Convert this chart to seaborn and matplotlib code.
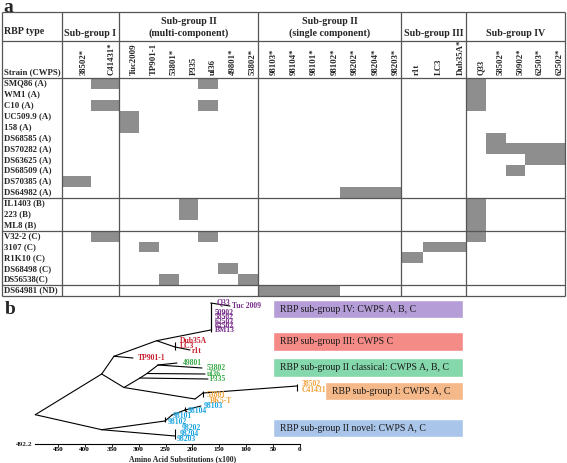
import numpy as np
import pandas as pd
import matplotlib
matplotlib.use("Agg")
import matplotlib.pyplot as plt
from matplotlib.colors import ListedColormap
import seaborn as sns

# ------------------------------------------------------------------
#  Panel a: RBP type found in each strain
# ------------------------------------------------------------------

group_names = ["Sub-group I", "Sub-group II\n(multi-component)",
               "Sub-group II\n(single component)", "Sub-group III",
               "Sub-group IV"]
group_I = ["38502*", "C41431*"]
group_II_multi = ["Tuc2009", "TP901-1", "53801*", "P335", "ul36",
                  "49801*", "53802*"]
group_II_single = ["98103*", "98104*", "98101*", "98102*", "98202*",
                   "98204*", "98203*"]
group_III = ["r1t", "LC3", "Dub35A*"]
group_IV = ["Q33", "58502*", "50902*", "62503*", "62502*"]
group_cols = [group_I, group_II_multi, group_II_single, group_III, group_IV]

strains = ["SMQ86 (A)", "WM1 (A)", "C10 (A)", "UC509.9 (A)", "158 (A)",
           "DS68585 (A)", "DS70282 (A)", "DS63625 (A)", "DS68509 (A)",
           "DS70385 (A)", "DS64982 (A)", "IL1403 (B)", "223 (B)", "ML8 (B)",
           "V32-2 (C)", "3107 (C)", "R1K10 (C)", "DS68498 (C)", "DS56538(C)",
           "DS64981 (ND)"]
strain_hits = [
    ["C41431*", "ul36", "Q33"],
    ["Q33"],
    ["C41431*", "ul36", "Q33"],
    ["Tuc2009"],
    ["Tuc2009"],
    ["58502*"],
    ["58502*", "50902*", "62503*", "62502*"],
    ["62503*", "62502*"],
    ["50902*"],
    ["38502*"],
    ["98202*", "98204*", "98203*"],
    ["P335", "Q33"],
    ["P335", "Q33"],
    ["Q33"],
    ["C41431*", "ul36", "Q33"],
    ["TP901-1", "LC3", "Dub35A*"],
    ["r1t"],
    ["49801*"],
    ["53801*", "53802*"],
    ["98103*", "98104*", "98101*", "98102*"],
]

# ------------------------------------------------------------------
#  Panel b: RBP tree (distances in x100 amino acid substitutions)
# ------------------------------------------------------------------

node_name = ["root", "n1", "n2", "n3", "n4", "IV", "q33", "Tuc", "III",
             "r1t", "TP901-1", "n5", "n6", "n7", "n8", "49801", "53802",
             "ul36", "P335", "n9", "n10", "I", "n11", "n12", "n13",
             "98103", "98104", "J"]
node_parent = [None, "root", "root", "n1", "n3", "n4", "IV", "q33", "n4",
               "III", "n3", "n1", "n5", "n6", "n7", "n8", "n8",
               "n7", "n6", "n5", "n9", "n10", "n2", "n11", "n12",
               "n13", "n13", "n2"]
node_dist = [492.2, 368.7, 368.7, 345.9, 266.5, 166.0, 166.0, 130.2, 232.4,
             204.5, 310.5, 327.3, 297.5, 284.5, 264.0, 228.7, 182.2,
             176.6, 171.1, 195.2, 180.4, 5.6, 251.0, 238.0, 213.8,
             184.1, 210.1, 232.4]
node_pos = [116.7, 76, 131.7, 58.3, 42.7, 32, 5, 8, 49,
            52, 60, 89.5, 80, 75.5, 67, 65, 70,
            76, 81, 101, 95, 88, 123, 117, 112,
            108, 114, 138]

# collapsed clades drawn as short vertical bars
bar_dist = [166.0, 232.4, 5.6, 180.4, 251.0, 213.8, 232.4]
bar_top = [5, 44, 86, 93, 119, 109, 131]
bar_bottom = [34, 52, 93, 99, 124, 113, 141]

tip_label = ["Q33", "Tuc 2009", "50902", "58502", "62503", "62502", "BM13",
             "Dub35A", "LC3", "r1t", "TP901-1",
             "49801", "53802", "ul36", "P335",
             "38502", "C41431", "53801", "BK5-T",
             "98103", "98104", "98101", "98102",
             "98202", "98204", "98203"]
tip_dist = [154.3, 126.4, 158.1, 158.1, 158.1, 158.1, 158.1,
            223.1, 223.1, 200.8, 301.2,
            217.6, 172.9, 172.9, 167.3,
            -3.7, -3.7, 172.9, 167.3,
            178.5, 208.3, 236.1, 245.4,
            219.4, 223.1, 228.7]
tip_pos = [4, 8, 15, 19, 24, 28, 32,
           42.7, 47.7, 52.7, 60,
           65, 70, 75.5, 81,
           86, 92, 97, 103,
           108, 113, 118, 124,
           130, 136, 141]
tip_group = ["IV"] * 7 + ["III"] * 4 + ["II classical"] * 4 + ["I"] * 4 + \
            ["II novel"] * 7

box_text = ["RBP sub-group IV: CWPS A, B, C", "RBP sub-group III: CWPS C",
            "RBP sub-group II classical: CWPS A, B, C",
            "RBP sub-group I: CWPS A, C", "RBP sub-group II novel: CWPS A, C"]
box_group = ["IV", "III", "II classical", "I", "II novel"]

label_colors = {"IV": "#77308A", "III": "#C8202F", "II classical": "#3BAA48",
                "I": "#F2A23C", "II novel": "#19A3DF"}
box_colors = {"IV": "#B59DD8", "III": "#F48B87", "II classical": "#85D7AC",
              "I": "#F5B888", "II novel": "#A9C5EA"}

# ------------------------------------------------------------------
#  Figure
# ------------------------------------------------------------------

sns.set_style("white")
plt.rcParams["font.family"] = ["Liberation Serif", "DejaVu Serif"]

W, H = 567, 463
fig = plt.figure(figsize=(W / 100, H / 100), dpi=100)


def px_axes(x0, y0, x1, y1):
    return fig.add_axes([x0 / W, 1 - y1 / H, (x1 - x0) / W, (y1 - y0) / H])


# table layout (pixels)
block_edges = [62, 119, 258, 401, 466, 565]
t_left, t_right, t_top, t_split, t_head, t_bot = 2, 565, 12, 41, 78, 296
line_c = "#555555"

all_rbps = sum(group_cols, [])
hit = pd.DataFrame(0, index=strains, columns=all_rbps)
for s, hits in zip(strains, strain_hits):
    hit.loc[s, hits] = 1

cmap = ListedColormap(["white", "#8e8e8e"])
for i, cols in enumerate(group_cols):
    ax = px_axes(block_edges[i], t_head, block_edges[i + 1], t_bot)
    sns.heatmap(hit[cols], ax=ax, cmap=cmap, vmin=0, vmax=1, cbar=False,
                xticklabels=cols, yticklabels=(strains if i == 0 else False))
    ax.set_xlabel("")
    ax.set_ylabel("")
    ax.xaxis.tick_top()
    ax.set_xticks(np.arange(len(cols)) + 0.75)
    ax.set_xticklabels(cols)
    ax.tick_params(axis="x", length=0, pad=2)
    plt.setp(ax.get_xticklabels(), rotation=90, fontsize=6.3,
             fontweight="bold", ha="center", va="bottom")
    if i == 0:
        ax.tick_params(axis="y", length=0, pad=(block_edges[0] - 4) * 0.72)
        plt.setp(ax.get_yticklabels(), rotation=0, fontsize=6.3,
                 fontweight="bold", ha="left", va="center")

# frame, separators and header texts
ov = px_axes(0, 0, W, 300)
ov.set_xlim(0, W)
ov.set_ylim(300, 0)
ov.axis("off")
ov.patch.set_alpha(0)

row_h = (t_bot - t_head) / len(strains)
cwps = [s.split("(")[-1].rstrip(")") for s in strains]
seps = [t_head + (k + 1) * row_h for k in range(len(cwps) - 1)
        if cwps[k] != cwps[k + 1]]
ov.hlines([t_top, t_split, t_head] + seps + [t_bot], t_left, t_right,
          colors=line_c, lw=0.9)
ov.vlines([t_left] + block_edges, t_top, t_bot, colors=line_c, lw=0.9)

ov.text(4, 32, "RBP type", fontsize=7.2, fontweight="bold", va="center")
ov.text(4, 72, "Strain (CWPS)", fontsize=6.3, fontweight="bold",
        va="center")
for i, name in enumerate(group_names):
    ov.text((block_edges[i] + block_edges[i + 1]) / 2, 38, name,
            fontsize=7.2, fontweight="bold", ha="center", va="bottom",
            multialignment="center", linespacing=1.35)

fig.text(3 / W, 1 - 12 / H, "a", fontsize=14, fontweight="bold",
         va="baseline", ha="left")
fig.text(5 / W, 1 - 314 / H, "b", fontsize=14, fontweight="bold",
         va="baseline", ha="left")

# ------------------------------------------------------------------
#  Tree
# ------------------------------------------------------------------

ax_t = px_axes(0, 298, W, 444)
ax_t.set_xlim(557.8, -496.5)
ax_t.set_ylim(146, 0)
ax_t.patch.set_alpha(0)

pos = dict(zip(node_name, zip(node_dist, node_pos)))
for name, parent in zip(node_name, node_parent):
    if parent is None:
        continue
    x0, y0 = pos[parent]
    x1, y1 = pos[name]
    ax_t.plot([x0, x1], [y0, y1], color="black", lw=0.8)
ax_t.vlines(bar_dist, bar_top, bar_bottom, colors="black", lw=0.8)

for lbl, d, p, g in zip(tip_label, tip_dist, tip_pos, tip_group):
    ax_t.text(d, p, lbl, color=label_colors[g], fontsize=5.5,
              fontweight="bold", ha="left", va="center", clip_on=False)

# coloured legend boxes
box_pos = [11, 43.7, 69.3, 93.2, 130.2]
box_left = [50.2, 50.2, 50.2, -46.5, 50.2]
box_right = -303.1
ax_t.barh(box_pos, [l - box_right for l in box_left], left=box_right,
          height=18.5, color=[box_colors[g] for g in box_group])
for txt, y, l in zip(box_text, box_pos, box_left):
    ax_t.text(l - 13, y, txt, fontsize=7, color="#1a1a1a", ha="left",
              va="center")

# axis
sns.despine(ax=ax_t, left=True)
ax_t.spines["bottom"].set_bounds(0, 492.2)
ax_t.spines["bottom"].set_color("black")
ax_t.spines["bottom"].set_linewidth(0.8)
ax_t.set_yticks([])
ax_t.set_xticks(np.arange(0, 451, 50))
ax_t.set_xticklabels([str(v) for v in np.arange(0, 451, 50)])
ax_t.tick_params(axis="x", length=2, width=0.6, pad=0.5, direction="out",
                 bottom=True, colors="black")
plt.setp(ax_t.get_xticklabels(), fontsize=5.2, fontweight="bold")
ax_t.text(497, 146, "492.2", fontsize=5.2, fontweight="bold", ha="right",
          va="center", clip_on=False)
ax_t.set_xlabel("Amino Acid Substitutions (x100)", fontsize=5.6,
                fontweight="bold")
ax_t.xaxis.set_label_coords(183 / W, -0.078)

fig.savefig("out.png", dpi=100)
